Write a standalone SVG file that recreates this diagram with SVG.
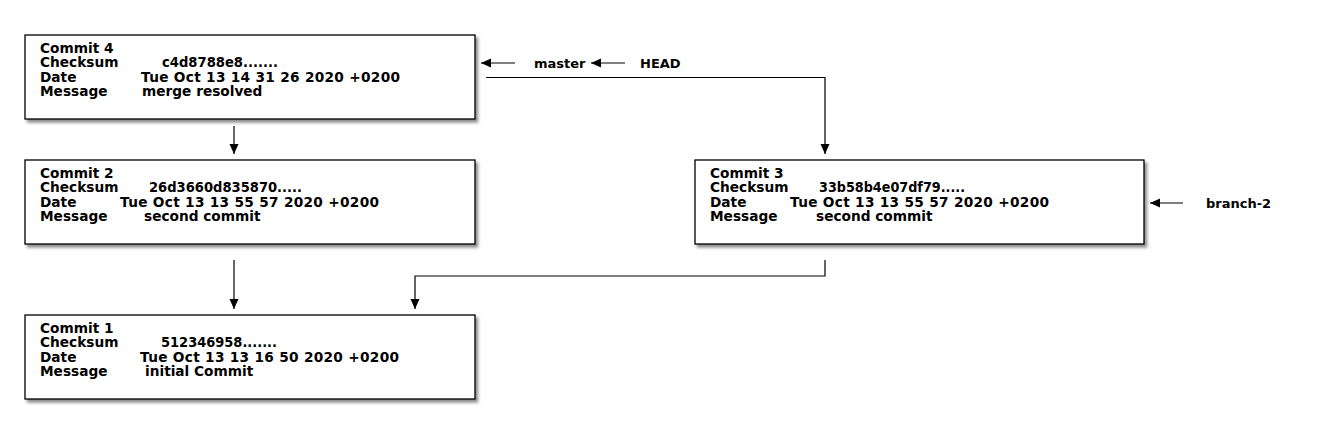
<svg xmlns="http://www.w3.org/2000/svg" width="1320" height="434" viewBox="0 0 1320 434">
<style>
text{font-family:"DejaVu Sans","Liberation Sans",sans-serif;font-weight:bold;font-size:13.7px;fill:#000}
.lbl{font-size:13px}
.box{fill:#fff;stroke:#000;stroke-width:1.3;filter:url(#sh)}
.ln{fill:none;stroke:#000;stroke-width:1.2}
</style>
<defs>
<filter id="sh" x="-5%" y="-10%" width="115%" height="130%">
<feDropShadow dx="2.5" dy="3" stdDeviation="1.8" flood-color="#000" flood-opacity="0.45"/>
</filter>
<marker id="ah" viewBox="0 0 10 10" refX="10" refY="5" markerWidth="10" markerHeight="10" markerUnits="userSpaceOnUse" orient="auto">
<path d="M0,0.5 L10,5 L0,9.5 Z" fill="#000"/>
</marker>
</defs>
<g id="commit4">
<rect class="box" x="25" y="35" width="450" height="84"/>
<text x="40" y="53">Commit 4</text>
<text x="40" y="67.3">Checksum</text><text x="162" y="67.3" textLength="116" lengthAdjust="spacingAndGlyphs">c4d8788e8.......</text>
<text x="40" y="81.6">Date</text><text x="141" y="81.6" textLength="259" lengthAdjust="spacing">Tue Oct 13 14 31 26 2020 +0200</text>
<text x="40" y="95.9">Message</text><text x="142" y="95.9">merge resolved</text>
</g>
<g id="commit2">
<rect class="box" x="25" y="160" width="450" height="84"/>
<text x="40" y="178">Commit 2</text>
<text x="40" y="192.3">Checksum</text><text x="149" y="192.3" textLength="153" lengthAdjust="spacingAndGlyphs">26d3660d835870.....</text>
<text x="40" y="206.6">Date</text><text x="120" y="206.6" textLength="259" lengthAdjust="spacing">Tue Oct 13 13 55 57 2020 +0200</text>
<text x="40" y="220.9">Message</text><text x="144" y="220.9">second commit</text>
</g>
<g id="commit3">
<rect class="box" x="695" y="160" width="449" height="84"/>
<text x="710" y="178">Commit 3</text>
<text x="710" y="192.3">Checksum</text><text x="819" y="192.3" textLength="146" lengthAdjust="spacingAndGlyphs">33b58b4e07df79.....</text>
<text x="710" y="206.6">Date</text><text x="790" y="206.6" textLength="259" lengthAdjust="spacing">Tue Oct 13 13 55 57 2020 +0200</text>
<text x="710" y="220.9">Message</text><text x="816" y="220.9">second commit</text>
</g>
<g id="commit1">
<rect class="box" x="25" y="315" width="450" height="84"/>
<text x="40" y="333">Commit 1</text>
<text x="40" y="347.3">Checksum</text><text x="161" y="347.3" textLength="116" lengthAdjust="spacingAndGlyphs">512346958.......</text>
<text x="40" y="361.6">Date</text><text x="140" y="361.6" textLength="259" lengthAdjust="spacing">Tue Oct 13 13 16 50 2020 +0200</text>
<text x="40" y="375.9">Message</text><text x="145" y="375.9">initial Commit</text>
</g>
<g id="master"><text class="lbl" x="534" y="67.5">master</text></g>
<g id="head"><text class="lbl" x="640" y="67.5">HEAD</text></g>
<g id="branch2"><text class="lbl" x="1206" y="207.5">branch-2</text></g>
<g id="connectors">
<path class="ln" d="M234,126 V154" marker-end="url(#ah)"/>
<path class="ln" d="M234,260 V309" marker-end="url(#ah)"/>
<path class="ln" d="M825,260 V276 H415 V309" marker-end="url(#ah)"/>
<path class="ln" d="M486,77.5 H825 V154" marker-end="url(#ah)"/>
<path class="ln" d="M515,63 H481" marker-end="url(#ah)"/>
<path class="ln" d="M625,63 H591" marker-end="url(#ah)"/>
<path class="ln" d="M1183,203 H1150" marker-end="url(#ah)"/>
</g>
</svg>
